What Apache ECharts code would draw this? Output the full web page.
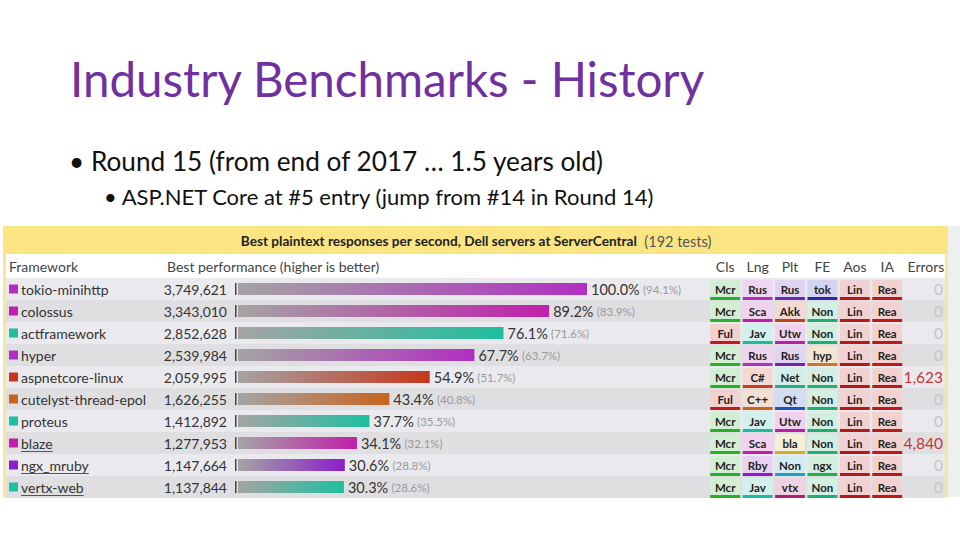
<!DOCTYPE html>
<html><head><meta charset="utf-8">
<script src="https://cdn.jsdelivr.net/npm/echarts@6/dist/echarts.min.js"></script>
<style>html,body{margin:0;padding:0;background:#fff}#c{width:960px;height:540px}</style>
</head><body><div id="c"></div><script>
// ---- data ----
const frameworks = ['tokio-minihttp','colossus','actframework','hyper','aspnetcore-linux','cutelyst-thread-epol','proteus','blaze','ngx_mruby','vertx-web'];
const requests = [3749621,3343010,2852628,2539984,2059995,1626255,1412892,1277953,1147664,1137844];
const overallPct = [94.1,83.9,71.6,63.7,51.7,40.8,35.5,32.1,28.8,28.6];
const linked = [false,false,false,false,false,false,false,true,true,true];
const tagColumns = ['Cls','Lng','Plt','FE','Aos','IA'];
const clsTags = ['Mcr','Mcr','Ful','Mcr','Mcr','Ful','Mcr','Mcr','Mcr','Mcr'];
const lngTags = ['Rus','Sca','Jav','Rus','C#','C++','Jav','Sca','Rby','Jav'];
const pltTags = ['Rus','Akk','Utw','Rus','Net','Qt','Utw','bla','Non','vtx'];
const feTags  = ['tok','Non','Non','hyp','Non','Non','Non','Non','ngx','Non'];
const aosTags = ['Lin','Lin','Lin','Lin','Lin','Lin','Lin','Lin','Lin','Lin'];
const iaTags  = ['Rea','Rea','Rea','Rea','Rea','Rea','Rea','Rea','Rea','Rea'];
const errors = [0,0,0,0,1623,0,0,4840,0,0];

// ---- styles ----
const FONT = 'Lato, "Noto Sans", sans-serif';
const langColors = {Rus:'#b12fc0', Sca:'#c01fab', Jav:'#1fbf9e', 'C#':'#c5381d', 'C++':'#c8641f', Rby:'#8a1fc8'};
const palette = {
  'Cls/Mcr':'#25b025','Cls/Ful':'#c21b1b',
  'Lng/Rus':'#b12fc0','Lng/Sca':'#c01fab','Lng/Jav':'#1fb8a0','Lng/C#':'#c5401d','Lng/C++':'#c8641f','Lng/Rby':'#8a1fc8',
  'Plt/Rus':'#6a28b8','Plt/Akk':'#c2401c','Plt/Utw':'#b61fa8','Plt/Net':'#1fb088','Plt/Qt':'#2050c0','Plt/bla':'#c8b030','Plt/Non':'#1fa0c0','Plt/vtx':'#b02070',
  'FE/tok':'#2828b0','FE/Non':'#1fb070','FE/hyp':'#c87a20','FE/ngx':'#20b050',
  'Aos/Lin':'#b81818','IA/Rea':'#c01818'
};
function tint(hex, k){
  const n = parseInt(hex.slice(1),16);
  const r=(n>>16)&255,g=(n>>8)&255,b=n&255;
  const m=v=>Math.round(v*(1-k)+255*k);
  return 'rgb('+m(r)+','+m(g)+','+m(b)+')';
}
const rowColors = ['#eaeaee','#dfdfe2'];

const maxReq = Math.max(...requests);
const tagArrays = [clsTags, lngTags, pltTags, feTags, aosTags, iaTags];
const tagData = [];
tagArrays.forEach((arr, ci) => arr.forEach((t, ri) => tagData.push({value:[ci, ri], tag:t, color:palette[tagColumns[ci]+'/'+t]})));

const measure = document.createElement('canvas').getContext('2d');
measure.font = '14px ' + FONT;

const chart = echarts.init(document.getElementById('c'), null, {renderer:'svg'});
const cat = {type:'category', data:frameworks, inverse:true, show:false};
chart.setOption({
  animation:false,
  backgroundColor:'#ffffff',
  title:[
    {text:'Industry Benchmarks - History', left:65, top:49, textStyle:{color:'#7030a0', fontSize:47.5, fontWeight:'normal', fontFamily:FONT}},
    {text:'\u2022 Round 15 (from end of 2017 \u2026 1.5 years old)', left:64, top:143, textStyle:{color:'#111', fontSize:26.2, fontWeight:'normal', fontFamily:FONT}},
    {text:'\u2022 ASP.NET Core at #5 entry (jump from #14 in Round 14)', left:99, top:180, textStyle:{color:'#111', fontSize:22, fontWeight:'normal', fontFamily:FONT}}
  ],
  graphic:[
    {type:'rect', z:0, shape:{x:3,y:226,width:945,height:271}, style:{fill:'#f7e79a'}},
    {type:'rect', z:0, shape:{x:3,y:226,width:945,height:28}, style:{fill:'#fbe582'}},
    {type:'rect', z:0, shape:{x:948,y:226,width:12,height:271}, style:{fill:'#eef0f0'}},
    {type:'rect', z:0, shape:{x:6,y:254,width:939,height:24}, style:{fill:'#ffffff'}},
    {type:'text', z:5, x:476, y:241, style:{text:'{b|Best plaintext responses per second, Dell servers at ServerCentral}{n|  (192 tests)}', align:'center', verticalAlign:'middle',
      rich:{b:{fontFamily:FONT, fontSize:13.6, fontWeight:'bold', fill:'#222', color:'#222'}, n:{fontFamily:FONT, fontSize:14.5, color:'#555', fill:'#555'}}}},
    {type:'text', z:5, x:9, y:266, style:{text:'Framework', font:'14px '+FONT, fill:'#444', verticalAlign:'middle'}},
    {type:'text', z:5, x:167, y:266, style:{text:'Best performance (higher is better)', font:'14px '+FONT, fill:'#444', verticalAlign:'middle'}}
  ],
  grid:[
    {left:238, top:278, width:349, height:220},
    {left:6, top:278, width:939, height:220},
    {left:709, top:278, width:194.4, height:220},
    {left:906, top:278, width:40, height:220}
  ],
  xAxis:[
    {gridIndex:0, type:'value', min:0, max:maxReq, show:false},
    {gridIndex:1, type:'value', min:0, max:1, show:false},
    {gridIndex:2, type:'category', data:tagColumns, position:'top', axisLine:{show:false}, axisTick:{show:false}, splitLine:{show:false},
      axisLabel:{color:'#444', fontSize:14, fontFamily:FONT, margin:5}},
    {gridIndex:3, type:'category', data:['Errors'], position:'top', axisLine:{show:false}, axisTick:{show:false}, splitLine:{show:false},
      axisLabel:{color:'#444', fontSize:14, fontFamily:FONT, margin:5}}
  ],
  yAxis:[
    Object.assign({gridIndex:0}, cat), Object.assign({gridIndex:1}, cat),
    Object.assign({gridIndex:2}, cat), Object.assign({gridIndex:3}, cat)
  ],
  series:[
    { // row backgrounds, names, values
      type:'custom', xAxisIndex:1, yAxisIndex:1, z:1, silent:true,
      data: frameworks.map((f,i)=>[0,i]),
      renderItem:(params, api)=>{
        const i = params.dataIndex;
        const cs = params.coordSys;
        const c = api.coord([0, i]);
        const h = api.size([1,1])[1];
        const top = c[1]-h/2;
        const col = langColors[lngTags[i]];
        const nx = cs.x + 15;
        const kids = [
          {type:'rect', shape:{x:cs.x, y:top, width:cs.width, height:h}, style:{fill:rowColors[i%2]}},
          {type:'rect', shape:{x:cs.x+3, y:c[1]-4.5, width:9, height:9}, style:{fill:col}},
          {type:'text', style:{text:frameworks[i], x:nx, y:c[1], verticalAlign:'middle', font:'14px '+FONT, fill:'#333'}},
          {type:'text', style:{text:requests[i].toLocaleString('en-US'), x:cs.x+221, y:c[1], align:'right', verticalAlign:'middle', font:'14px '+FONT, fill:'#333'}}
        ];
        if (linked[i]) {
          const w = measure.measureText(frameworks[i]).width;
          kids.push({type:'rect', shape:{x:nx, y:c[1]+8, width:w, height:1}, style:{fill:'#555'}});
        }
        return {type:'group', children:kids};
      }
    },
    { // bars
      type:'bar', xAxisIndex:0, yAxisIndex:0, z:3, barWidth:12,
      data: requests.map((v,i)=>({value:v, itemStyle:{color:new echarts.graphic.LinearGradient(0,0,1,0,[{offset:0,color:'#a4a4a4'},{offset:1,color:langColors[lngTags[i]]}])}})),
      label:{show:true, position:'right', distance:4,
        formatter:(p)=>'{a|'+(requests[p.dataIndex]/maxReq*100).toFixed(1)+'%} {b|('+overallPct[p.dataIndex].toFixed(1)+'%)}',
        rich:{a:{fontSize:14.5, color:'#333', fontFamily:FONT}, b:{fontSize:11.5, color:'#999', fontFamily:FONT}}}
    },
    { // tick before bars
      type:'custom', xAxisIndex:0, yAxisIndex:0, z:3, silent:true,
      data: requests.map((v,i)=>[0,i]),
      renderItem:(params, api)=>{
        const c = api.coord([0, params.dataIndex]);
        return {type:'rect', shape:{x:c[0]-3, y:c[1]-6, width:1.5, height:12}, style:{fill:'#444'}};
      }
    },
    { // tag cells
      type:'custom', xAxisIndex:2, yAxisIndex:2, z:3, silent:true,
      data: tagData.map(d=>d.value),
      renderItem:(params, api)=>{
        const d = tagData[params.dataIndex];
        const c = api.coord([api.value(0), api.value(1)]);
        const s = api.size([1,1]);
        const w = s[0]-2.5;
        const x = c[0]-w/2, top = c[1]-s[1]/2+2;
        const bh = s[1]-5;
        return {type:'group', children:[
          {type:'rect', shape:{x:x, y:top, width:w, height:bh}, style:{fill:tint(d.color,0.8)}},
          {type:'rect', shape:{x:x, y:top+bh, width:w, height:3}, style:{fill:d.color}},
          {type:'text', style:{text:d.tag, x:c[0], y:top+bh/2+0.5, align:'center', verticalAlign:'middle', font:'bold 11.5px '+FONT, fill:'#222'}}
        ]};
      }
    },
    { // errors
      type:'custom', xAxisIndex:3, yAxisIndex:3, z:3, silent:true,
      data: errors.map((e,i)=>[0,i]),
      renderItem:(params, api)=>{
        const i = params.dataIndex;
        const cs = params.coordSys;
        const c = api.coord([0, i]);
        const e = errors[i];
        return {type:'text', style:{text:e.toLocaleString('en-US'), x:cs.x+cs.width-3, y:c[1], align:'right', verticalAlign:'middle',
          font:'15.5px '+FONT, fill: e>0 ? '#c43434' : '#c4c4c4'}};
      }
    }
  ]
});
</script></body></html>
